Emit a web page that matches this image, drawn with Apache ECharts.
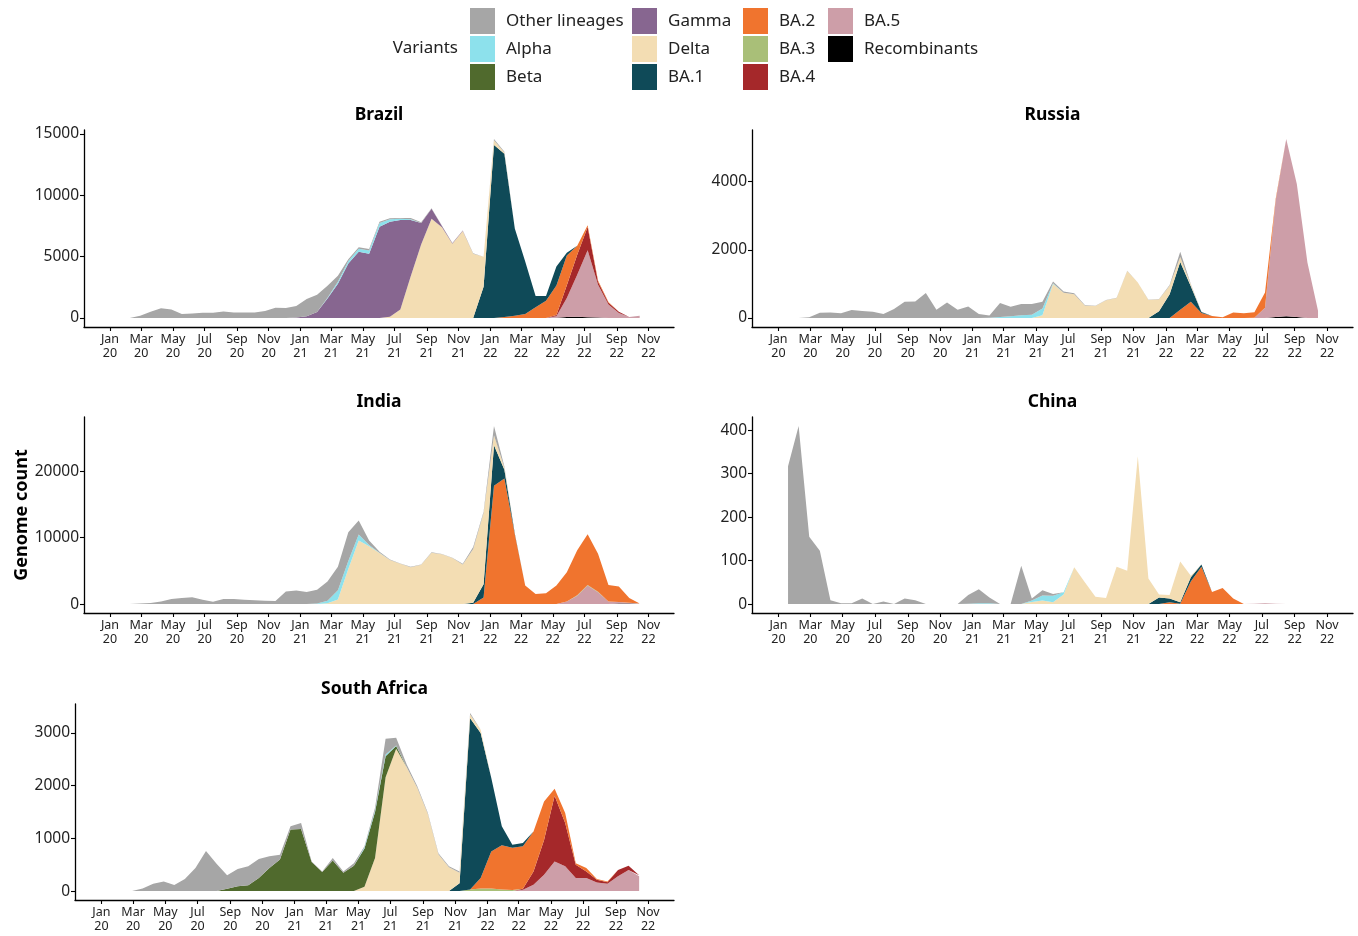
<!DOCTYPE html>
<html><head><meta charset="utf-8">
<script src="https://cdn.jsdelivr.net/npm/echarts@6/dist/echarts.min.js"></script>
<style>html,body{margin:0;padding:0;background:#fff}#c{width:1358px;height:936px}</style>
</head><body><div id="c"></div>
<script>
// sampling dates (about every 20 days)
const dates = ['2020-01-19','2020-02-08','2020-02-28','2020-03-19','2020-04-08','2020-04-28','2020-05-18','2020-06-07','2020-06-27','2020-07-17',
'2020-08-06','2020-08-26','2020-09-15','2020-10-05','2020-10-25','2020-11-14','2020-12-04','2020-12-24','2021-01-13','2021-02-02',
'2021-02-22','2021-03-14','2021-04-03','2021-04-23','2021-05-13','2021-06-02','2021-06-22','2021-07-12','2021-08-01','2021-08-21',
'2021-09-10','2021-09-30','2021-10-20','2021-11-09','2021-11-29','2021-12-19','2022-01-08','2022-01-28','2022-02-17','2022-03-09',
'2022-03-29','2022-04-18','2022-05-08','2022-05-28','2022-06-17','2022-07-07','2022-07-27','2022-08-16','2022-09-05','2022-09-25',
'2022-10-15'];
const xTickDates = ['2020-01-01','2020-03-01','2020-05-01','2020-07-01','2020-09-01','2020-11-01','2021-01-01','2021-03-01','2021-05-01',
'2021-07-01','2021-09-01','2021-11-01','2022-01-01','2022-03-01','2022-05-01','2022-07-01','2022-09-01','2022-11-01'];
const monthNames = ['Jan','Feb','Mar','Apr','May','Jun','Jul','Aug','Sep','Oct','Nov','Dec'];

const variants = ['Other lineages','Alpha','Beta','Gamma','Delta','BA.1','BA.2','BA.3','BA.4','BA.5','Recombinants'];
const variantColors = ['#A6A6A6','#8DE1EC','#506A2D','#876690','#F3DDB3','#0F4A58','#F0742E','#A9BF78','#A5282A','#CD9EA8','#000000'];

const brazilTicks = [0,5000,10000,15000];
const russiaTicks = [0,2000,4000];
const indiaTicks = [0,10000,20000];
const chinaTicks = [0,100,200,300,400];
const safricaTicks = [0,1000,2000,3000];

// ---------- Brazil ----------
const brazilOther = [0,0,190,520,790,700,330,380,430,430, 540,460,460,460,570,840,815,930,1400,1400, 990,500,150,120,130,110,80,60,110,50, 50,30,20,0,30,0,100,50,0,0, 0,0,0,0,0,0,0,0,0,0, 0];
const brazilAlpha = [0,0,0,0,0,0,0,0,0,0, 0,0,0,0,0,0,0,0,0,0, 50,150,200,250,250,300,200,100,50,0, 0,0,0,0,0,0,0,0,0,0, 0,0,0,0,0,0,0,0,0,0, 0];
const brazilGamma = [0,0,0,0,0,0,0,0,0,0, 0,0,0,0,0,0,0,50,150,500, 1600,2800,4450,5400,5250,7450,7750,7300,4600,1750, 800,100,50,30,0,0,0,0,0,0, 0,0,0,0,0,0,0,0,0,0, 0];
const brazilDelta = [0,0,0,0,0,0,0,0,0,0, 0,0,0,0,0,0,0,0,0,0, 0,0,0,0,0,0,100,700,3400,6000, 8100,7400,6050,7100,5250,2450,400,100,0,0, 0,0,0,0,0,0,0,0,0,0, 0];
const brazilBA1 = [0,0,0,0,0,0,0,0,0,0, 0,0,0,0,0,0,0,0,0,0, 0,0,0,0,0,0,0,0,0,0, 0,0,0,0,0,2550,14100,13320,7110,4270, 930,380,1550,230,0,0,0,0,0,0, 0];
const brazilBA2 = [0,0,0,0,0,0,0,0,0,0, 0,0,0,0,0,0,0,0,0,0, 0,0,0,0,0,0,0,0,0,0, 0,0,0,0,0,0,0,80,190,330, 870,1420,2400,2420,730,140,100,50,0,0, 0];
const brazilBA4 = [0,0,0,0,0,0,0,0,0,0, 0,0,0,0,0,0,0,0,0,0, 0,0,0,0,0,0,0,0,0,0, 0,0,0,0,0,0,0,0,0,0, 0,0,100,1040,1640,1910,250,150,100,0, 0];
const brazilBA5 = [0,0,0,0,0,0,0,0,0,0, 0,0,0,0,0,0,0,0,0,0, 0,0,0,0,0,0,0,0,0,0, 0,0,0,0,0,0,0,0,0,0, 0,0,120,1560,3430,5460,2670,1100,420,80, 190];
const brazilRec = [0,0,0,0,0,0,0,0,0,0, 0,0,0,0,0,0,0,0,0,0, 0,0,0,0,0,0,0,0,0,0, 0,0,0,0,0,0,0,0,0,0, 0,0,30,80,100,60,40,0,0,0, 0];

// ---------- Russia ----------
const russiaOther = [0,0,20,156,166,137,234,205,185,117, 264,478,488,732,244,459,244,342,117,68, 410,280,330,310,200,54,40,30,10,5, 7,5,6,4,7,6,20,150,20,5, 0,0,0,0,0,0,0,0,0,0, 0];
const russiaAlpha = [0,0,0,0,0,0,0,0,0,0, 0,0,0,0,0,0,0,0,0,10, 30,50,80,100,200,20,0,0,0,0, 0,0,0,0,0,0,0,0,0,0, 0,0,0,0,0,0,0,0,0,0, 0];
const russiaDelta = [0,0,0,0,0,0,0,0,0,0, 0,0,0,0,0,0,0,0,0,0, 0,0,0,0,80,1000,740,700,370,355, 520,590,1380,1040,530,350,250,150,50,0, 0,0,0,0,0,0,0,0,0,0, 0];
const russiaBA1 = [0,0,0,0,0,0,0,0,0,0, 0,0,0,0,0,0,0,0,0,0, 0,0,0,0,0,0,0,0,0,0, 0,0,0,0,0,200,700,1400,450,30, 0,0,0,0,0,0,0,0,0,0, 0];
const russiaBA2 = [0,0,0,0,0,0,0,0,0,0, 0,0,0,0,0,0,0,0,0,0, 0,0,0,0,0,0,0,0,0,0, 0,0,0,0,0,0,0,240,480,150, 60,20,160,140,160,450,50,0,0,0, 0];
const russiaBA5 = [0,0,0,0,0,0,0,0,0,0, 0,0,0,0,0,0,0,0,0,0, 0,0,0,0,0,0,0,0,0,0, 0,0,0,0,0,0,0,0,0,0, 0,0,0,0,10,300,3400,5200,3900,1630, 215];
const russiaRec = [0,0,0,0,0,0,0,0,0,0, 0,0,0,0,0,0,0,0,0,0, 0,0,0,0,0,0,0,0,0,0, 0,0,0,0,0,0,0,0,0,0, 0,0,0,0,0,0,30,50,30,0, 0];

// ---------- India ----------
const indiaOther = [0,0,100,150,400,760,920,1020,660,360, 760,760,660,560,510,460,1880,2040,1780,2040, 2900,3500,4300,2100,700,150,100,60,50,50, 60,50,50,110,290,200,1400,200,0,0, 0,0,0,0,0,0,0,0,0,0, 0];
const indiaAlpha = [0,0,0,0,0,0,0,0,0,0, 0,0,0,0,0,0,0,0,20,100, 400,1400,1200,900,170,40,0,0,0,0, 0,0,0,0,0,0,0,0,0,0, 0,0,0,0,0,0,0,0,0,0, 0];
const indiaDelta = [0,0,0,0,0,0,0,0,0,0, 0,0,0,0,0,0,0,0,0,0, 110,700,5290,9570,8700,7700,6620,6050,5550,5910, 7730,7480,6920,5950,8100,10700,1500,300,0,0, 0,0,0,0,0,0,0,0,0,0, 0];
const indiaBA1 = [0,0,0,0,0,0,0,0,0,0, 0,0,0,0,0,0,0,0,0,0, 0,0,0,0,0,0,0,0,0,0, 0,0,0,0,200,2000,6100,1300,100,0, 0,0,0,0,0,0,0,0,0,0, 0];
const indiaBA2 = [0,0,0,0,0,0,0,0,0,0, 0,0,0,0,0,0,0,0,0,0, 0,0,0,0,0,0,0,0,0,0, 0,0,0,0,0,1000,17800,18900,10500,2780, 1520,1620,2780,4400,6740,7620,5730,2480,2300,710, 50];
const indiaBA3 = [0,0,0,0,0,0,0,0,0,0, 0,0,0,0,0,0,0,0,0,0, 0,0,0,0,0,0,0,0,0,0, 0,0,0,0,0,0,0,0,0,0, 0,0,0,0,80,100,80,0,0,0, 0];
const indiaBA5 = [0,0,0,0,0,0,0,0,0,0, 0,0,0,0,0,0,0,0,0,0, 0,0,0,0,0,0,0,0,0,0, 0,0,0,0,0,0,0,0,0,0, 0,0,0,400,1260,2780,1770,400,250,100, 0];
const indiaRec = [0,0,0,0,0,0,0,0,0,0, 0,0,0,0,0,0,0,0,0,0, 0,0,0,0,0,0,0,0,0,0, 0,0,0,0,0,0,0,0,0,0, 0,0,0,0,0,0,0,0,80,100, 50];

// ---------- China ----------
const chinaOther = [317,410,155,123,9,2,2,13,0,6, 0,13,9,0,0,0,0,20,32,13, 0,0,88,5,12,4,0,0,0,0, 0,0,0,0,0,0,0,0,0,0, 0,0,0,0,0,0,0,0,0,0, 0];
const chinaAlpha = [0,0,0,0,0,0,0,0,0,0, 0,0,0,0,0,0,0,1,2,2, 0,0,0,3,12,15,5,0,0,0, 0,0,0,0,0,0,0,0,0,0, 0,0,0,0,0,0,0,0,0,0, 0];
const chinaDelta = [0,0,0,0,0,0,0,0,0,0, 0,0,0,0,0,0,0,0,0,0, 0,0,0,5,8,4,22,85,50,17, 14,86,77,340,59,7,8,94,3,0, 0,0,0,0,0,0,0,0,0,0, 0];
const chinaBA1 = [0,0,0,0,0,0,0,0,0,0, 0,0,0,0,0,0,0,0,0,0, 0,0,0,0,0,0,0,0,0,0, 0,0,0,0,0,15,9,3,10,5, 0,0,0,0,0,0,0,0,0,0, 0];
const chinaBA2 = [0,0,0,0,0,0,0,0,0,0, 0,0,0,0,0,0,0,0,0,0, 0,0,0,0,0,0,0,0,0,0, 0,0,0,0,0,0,4,1,52,86, 28,37,13,0,0,0,0,0,0,0, 0];
const chinaBA5 = [0,0,0,0,0,0,0,0,0,0, 0,0,0,0,0,0,0,0,0,0, 0,0,0,0,0,0,0,0,0,0, 0,0,0,0,0,0,0,0,0,0, 0,0,0,0,1,2,1,0,0,0, 0];

// ---------- South Africa ----------
const safricaOther = [0,0,0,50,140,180,115,230,440,760, 520,255,330,360,360,220,90,60,110,10, 10,50,20,50,20,50,300,150,50,30, 20,20,20,20,30,0,0,0,0,0, 0,0,0,0,0,0,0,0,0,0, 0];
const safricaAlpha = [0,0,0,0,0,0,0,0,0,0, 0,0,0,0,0,0,0,0,0,0, 0,0,0,0,20,30,30,10,0,0, 0,0,0,0,0,0,0,0,0,0, 0,0,0,0,0,0,0,0,0,0, 0];
const safricaBeta = [0,0,0,0,0,0,0,0,0,0, 0,45,90,110,250,440,600,1170,1180,550, 360,580,350,480,730,870,400,50,0,0, 0,0,0,0,0,0,0,0,0,0, 0,0,0,0,0,0,0,0,0,0, 0];
const safricaDelta = [0,0,0,0,0,0,0,0,0,0, 0,0,0,0,0,0,0,0,0,0, 0,0,0,0,80,630,2160,2700,2350,1960, 1460,700,450,200,70,60,0,0,0,0, 0,0,0,0,0,0,0,0,0,0, 0];
const safricaBA1 = [0,0,0,0,0,0,0,0,0,0, 0,0,0,0,0,0,0,0,0,0, 0,0,0,0,0,0,0,0,0,0, 0,0,0,150,3250,2750,1400,360,60,60, 0,0,0,0,0,0,0,0,0,0, 0];
const safricaBA2 = [0,0,0,0,0,0,0,0,0,0, 0,0,0,0,0,0,0,0,0,0, 0,0,0,0,0,0,0,0,0,0, 0,0,0,0,0,200,700,840,800,805, 760,730,130,190,30,70,15,10,0,0, 0];
const safricaBA3 = [0,0,0,0,0,0,0,0,0,0, 0,0,0,0,0,0,0,0,0,0, 0,0,0,0,0,0,0,0,0,0, 0,0,0,0,30,50,50,30,20,0, 0,0,0,0,0,0,0,0,0,0, 0];
const safricaBA4 = [0,0,0,0,0,0,0,0,0,0, 0,0,0,0,0,0,0,0,0,0, 0,0,0,0,0,0,0,0,0,0, 0,0,0,0,0,0,0,0,0,20, 250,660,1250,820,250,120,50,30,120,80, 20];
const safricaBA5 = [0,0,0,0,0,0,0,0,0,0, 0,0,0,0,0,0,0,0,0,0, 0,0,0,0,0,0,0,0,0,0, 0,0,0,0,0,0,0,0,0,25, 120,310,560,470,250,250,165,140,280,400, 280];

const panels = [
  {title:'Brazil', grid:{left:84, top:130, width:590, height:197}, ticks:brazilTicks,
   data:{'Other lineages':brazilOther,'Alpha':brazilAlpha,'Gamma':brazilGamma,'Delta':brazilDelta,'BA.1':brazilBA1,'BA.2':brazilBA2,'BA.4':brazilBA4,'BA.5':brazilBA5,'Recombinants':brazilRec}},
  {title:'Russia', grid:{left:752, top:130, width:601, height:197}, ticks:russiaTicks,
   data:{'Other lineages':russiaOther,'Alpha':russiaAlpha,'Delta':russiaDelta,'BA.1':russiaBA1,'BA.2':russiaBA2,'BA.5':russiaBA5,'Recombinants':russiaRec}},
  {title:'India', grid:{left:84, top:417, width:590, height:196}, ticks:indiaTicks,
   data:{'Other lineages':indiaOther,'Alpha':indiaAlpha,'Delta':indiaDelta,'BA.1':indiaBA1,'BA.2':indiaBA2,'BA.3':indiaBA3,'BA.5':indiaBA5,'Recombinants':indiaRec}},
  {title:'China', grid:{left:752, top:417, width:601, height:196}, ticks:chinaTicks,
   data:{'Other lineages':chinaOther,'Alpha':chinaAlpha,'Delta':chinaDelta,'BA.1':chinaBA1,'BA.2':chinaBA2,'BA.5':chinaBA5}},
  {title:'South Africa', grid:{left:75, top:704, width:599, height:196}, ticks:safricaTicks,
   data:{'Other lineages':safricaOther,'Alpha':safricaAlpha,'Beta':safricaBeta,'Delta':safricaDelta,'BA.1':safricaBA1,'BA.2':safricaBA2,'BA.3':safricaBA3,'BA.4':safricaBA4,'BA.5':safricaBA5}}
];

const FONT = 'Noto Sans';
const toTime = s => { const p = s.split('-'); return new Date(+p[0], +p[1]-1, +p[2]).getTime(); };
const xMin = toTime('2019-11-12');
const xMax = toTime('2022-12-20');
const xTicks = xTickDates.map(toTime);

const grids = [], xAxes = [], yAxes = [], series = [], graphics = [];
panels.forEach((p, i) => {
  grids.push(Object.assign({containLabel:false}, p.grid));
  let maxTot = 0;
  dates.forEach((d, j) => {
    let s = 0; Object.values(p.data).forEach(a => s += a[j]);
    if (s > maxTot) maxTot = s;
  });
  // time axis carrying the data (hidden)
  xAxes.push({type:'time', gridIndex:i, min:xMin, max:xMax, show:false});
  // value axis of same range used only for drawing ticks and labels
  xAxes.push({
    type:'value', gridIndex:i, min:xMin, max:xMax, position:'bottom',
    axisLine:{show:true, onZero:false, lineStyle:{color:'#000', width:1.3}},
    axisTick:{show:true, length:4, lineStyle:{color:'#000', width:1.1}, customValues:xTicks},
    axisLabel:{customValues:xTicks, fontFamily:FONT, fontSize:12.5, color:'#222', lineHeight:14, margin:5,
      formatter: v => { const d = new Date(v); return monthNames[d.getMonth()] + '\n' + String(d.getFullYear()).slice(2); }},
    splitLine:{show:false}
  });
  yAxes.push({
    type:'value', gridIndex:i, min:-0.05*maxTot, max:1.05*maxTot,
    axisLine:{show:true, onZero:false, lineStyle:{color:'#000', width:1.3}},
    axisTick:{show:true, length:4, lineStyle:{color:'#000', width:1.1}, customValues:p.ticks},
    axisLabel:{customValues:p.ticks, fontFamily:FONT, fontSize:15.5, color:'#222', margin:5, formatter: v => String(v)},
    splitLine:{show:false}
  });
  for (let v = variants.length - 1; v >= 0; v--) {
    const name = variants[v];
    const arr = p.data[name];
    if (!arr) continue;
    series.push({
      type:'line', name, xAxisIndex:2*i, yAxisIndex:i, stack:'s'+i,
      data: dates.map((d, j) => [toTime(d), arr[j]]),
      symbol:'none', showSymbol:false, silent:true,
      lineStyle:{width:0}, itemStyle:{color:variantColors[v]},
      areaStyle:{color:variantColors[v], opacity:1}
    });
  }
  graphics.push({type:'text', x:p.grid.left + p.grid.width/2, y:p.grid.top - 15,
    style:{text:p.title, textAlign:'center', textVerticalAlign:'middle', font:'bold 17.5px "'+FONT+'"', fill:'#000'}});
});

graphics.push({type:'text', x:22, y:515, rotation:Math.PI/2,
  style:{text:'Genome count', textAlign:'center', textVerticalAlign:'middle', font:'bold 18px "'+FONT+'"', fill:'#000'}});
graphics.push({type:'text', x:458, y:48,
  style:{text:'Variants', textAlign:'right', textVerticalAlign:'middle', font:'17px "'+FONT+'"', fill:'#222'}});

const legendCols = [
  {left:470, names:['Other lineages','Alpha','Beta']},
  {left:632, names:['Gamma','Delta','BA.1']},
  {left:743, names:['BA.2','BA.3','BA.4']},
  {left:828, names:['BA.5','Recombinants']}
];
const legends = legendCols.map(c => ({
  orient:'vertical', left:c.left, top:8, itemWidth:25, itemHeight:26, itemGap:2,
  icon:'rect', selectedMode:false, padding:0,
  data:c.names.map(n => ({name:n, itemStyle:{color:variantColors[variants.indexOf(n)]}})),
  textStyle:{fontFamily:FONT, fontSize:17, color:'#222', padding:[0,0,0,6]}
}));

const chart = echarts.init(document.getElementById('c'), null, {renderer:'canvas'});
chart.setOption({
  animation:false, backgroundColor:'#fff',
  grid:grids, xAxis:xAxes, yAxis:yAxes, series, legend:legends, graphic:graphics
});
</script></body></html>
